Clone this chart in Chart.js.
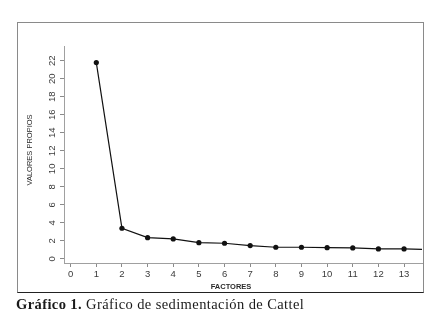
<!DOCTYPE html>
<html>
<head>
<meta charset="utf-8">
<script src="https://cdn.jsdelivr.net/npm/chart.js@4.4.1/dist/chart.umd.min.js"></script>
<style>
  html, body { margin: 0; padding: 0; background: #fff; }
  #wrap { position: relative; width: 434px; height: 316px; overflow: hidden; background: #fff; }
  #frame { position: absolute; left: 17px; top: 22px; width: 405px; height: 269px;
           border-top: 1px solid #8a8a8a; border-left: 1px solid #8a8a8a; border-right: 1px solid #8a8a8a;
           border-bottom: 1px solid #222; box-sizing: content-box; }
  #c { position: absolute; left: 0; top: 0; }
  #caption { position: absolute; left: 16px; top: 296px; font-family: "Liberation Serif", "DejaVu Serif", serif;
             font-size: 14.5px; letter-spacing: 0.4px; color: #1a1a1a; white-space: nowrap; line-height: 16px; }
  #caption b { font-weight: bold; }
</style>
</head>
<body>
<div id="wrap">
  <div id="frame"></div>
  <canvas id="c" width="434" height="316"></canvas>
  <div id="caption"><b>Gráfico 1.</b> Gráfico de sedimentación de Cattel</div>
</div>
<script>
// Data
const factores = [1, 2, 3, 4, 5, 6, 7, 8, 9, 10, 11, 12, 13, 14];
const valoresPropios = [21.8, 3.41, 2.36, 2.22, 1.81, 1.74, 1.48, 1.30, 1.30, 1.25, 1.22, 1.11, 1.11, 1.05];
const xTicks = [0, 1, 2, 3, 4, 5, 6, 7, 8, 9, 10, 11, 12, 13];
const yTicks = [0, 2, 4, 6, 8, 10, 12, 14, 16, 18, 20, 22];
const xTitle = "FACTORES";
const yTitle = "VALORES PROPIOS";

const axisTitles = {
  id: 'axisTitles',
  afterDraw(chart) {
    const ctx = chart.ctx;
    const a = chart.chartArea;
    ctx.save();
    ctx.fillStyle = '#2a2a2a';
    ctx.textAlign = 'center';
    ctx.textBaseline = 'middle';
    ctx.font = 'bold 7.5px "Liberation Sans", Arial, sans-serif';
    ctx.fillText(xTitle, a.left + 167, 287);
    ctx.translate(30, 150);
    ctx.rotate(-Math.PI / 2);
    ctx.font = '7.5px "Liberation Sans", Arial, sans-serif';
    ctx.fillText(yTitle, 0, 0);
    ctx.restore();
  }
};

new Chart(document.getElementById('c'), {
  type: 'line',
  data: {
    datasets: [{
      data: factores.map((f, i) => ({ x: f, y: valoresPropios[i] })),
      borderColor: '#111',
      borderWidth: 1.2,
      backgroundColor: '#111',
      pointRadius: 2.6,
      pointBackgroundColor: '#111',
      pointBorderWidth: 0,
      tension: 0,
      fill: false
    }]
  },
  options: {
    responsive: false,
    animation: false,
    events: [],
    layout: { padding: { left: 17, top: 46, right: 12, bottom: 33 } },
    plugins: { legend: { display: false }, tooltip: { enabled: false }, title: { display: false } },
    scales: {
      x: {
        type: 'linear',
        min: -0.26,
        max: 13.7,
        afterBuildTicks: s => { s.ticks = xTicks.map(v => ({ value: v })); },
        afterFit: s => { s.height = 20; },
        border: { display: true, color: '#a0a0a0', width: 1 },
        grid: { display: true, drawOnChartArea: false, drawTicks: true, tickLength: 4, color: '#8a8a8a' },
        ticks: { color: '#3a3a3a', padding: 2, maxRotation: 0, autoSkip: false,
                 font: { family: '"Liberation Sans", Arial, sans-serif', size: 9.5 } }
      },
      y: {
        type: 'linear',
        min: -0.45,
        max: 23.64,
        afterBuildTicks: s => { s.ticks = yTicks.map(v => ({ value: v })); },
        afterFit: s => { s.width = 47; },
        border: { display: true, color: '#a0a0a0', width: 1 },
        grid: { display: true, drawOnChartArea: false, drawTicks: true, tickLength: 4, color: '#8a8a8a' },
        ticks: { color: '#3a3a3a', padding: 2.5, minRotation: 90, maxRotation: 90, crossAlign: 'center', autoSkip: false,
                 font: { family: '"Liberation Sans", Arial, sans-serif', size: 9.5 } }
      }
    }
  },
  plugins: [axisTitles]
});
</script>
</body>
</html>
